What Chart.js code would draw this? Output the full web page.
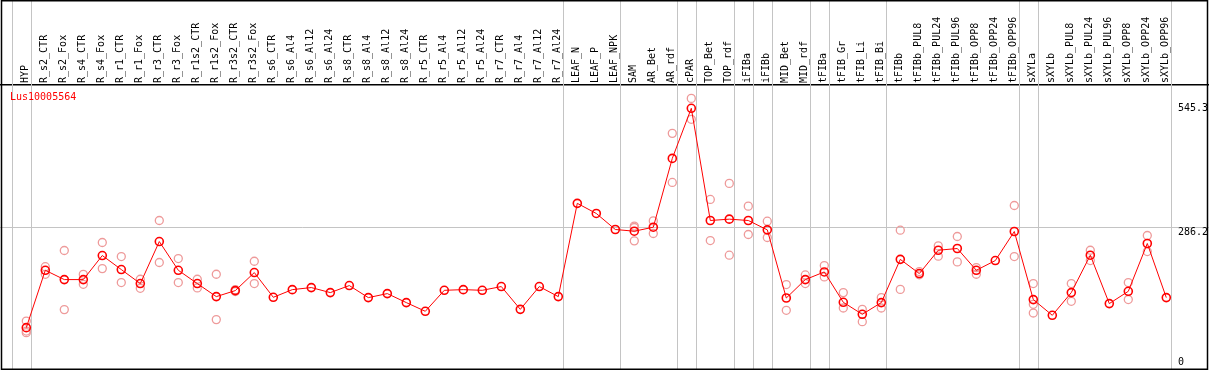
<!DOCTYPE html>
<html>
<head>
<meta charset="utf-8">
<script src="https://cdn.jsdelivr.net/npm/chart.js@4"></script>
<style>
  html, body { margin: 0; padding: 0; background: #fff; }
  #wrap { width: 1209px; height: 370px; position: relative; }
</style>
</head>
<body>
<div id="wrap"><canvas id="mainChart"></canvas></div>
<script>
// gene id shown in the corner
const geneName = "Lus10005564";

const categories = [
    "HYP", "R_s2_CTR", "R_s2_Fox", "R_s4_CTR", "R_s4_Fox", "R_r1_CTR", "R_r1_Fox",
    "R_r3_CTR", "R_r3_Fox", "R_r1s2_CTR", "R_r1s2_Fox", "R_r3s2_CTR", "R_r3s2_Fox",
    "R_s6_CTR", "R_s6_Al4", "R_s6_Al12", "R_s6_Al24", "R_s8_CTR", "R_s8_Al4", "R_s8_Al12",
    "R_s8_Al24", "R_r5_CTR", "R_r5_Al4", "R_r5_Al12", "R_r5_Al24", "R_r7_CTR", "R_r7_Al4",
    "R_r7_Al12", "R_r7_Al24", "LEAF_N", "LEAF_P", "LEAF_NPK", "SAM", "AR_Bet", "AR_rdf",
    "cPAR", "TOP_Bet", "TOP_rdf", "iFIBa", "iFIBb", "MID_Bet", "MID_rdf", "tFIBa",
    "tFIB_Gr", "tFIB_Li", "tFIB_Bi", "tFIBb", "tFIBb_PUL8", "tFIBb_PUL24", "tFIBb_PUL96",
    "tFIBb_OPP8", "tFIBb_OPP24", "tFIBb_OPP96", "sXYLa", "sXYLb", "sXYLb_PUL8",
    "sXYLb_PUL24", "sXYLb_PUL96", "sXYLb_OPP8", "sXYLb_OPP24", "sXYLb_OPP96"
];

const means = [
    86.5, 206.5, 187, 187, 237.3, 208, 178.7, 266.6, 206.5, 178.7, 151.4, 164, 201.7,
    150, 166, 170.3, 159.8, 174.5, 149.3, 157.7, 138.9, 120.7, 164.6, 166, 164.6,
    172.4, 124.8, 172.4, 151.4, 346.5, 325.3, 291.8, 288.2, 296.6, 440.5, 545.3,
    310.6, 313.4, 310.6, 291, 148.5, 187, 203, 139.5, 114.4, 138.9, 229.3, 199.6,
    248.4, 252, 206.5, 226.8, 287.6, 145.2, 112.3, 159.8, 238, 136.8, 162.5, 262.5, 149.3
];

const replicates = [
    [100.3, 79.4, 76], [214, 198], [247.8, 124.2], [198, 177.2], [264.6, 210],
    [235.2, 180.8], [187.7, 168.8], [310.6, 222.7], [231, 180.8], [187.7, 169.5],
    [198.2, 103.3], [166, 162], [225.4, 178.7],
    [], [], [], [], [], [], [], [], [], [], [], [], [], [], [], [], [], [], [],
    [299, 296, 268], [309.8, 283.4], [492.9, 390.2], [566, 522.2], [354.6, 268.7],
    [388.2, 238], [340.6, 281.3], [309.2, 275], [176.6, 122.7], [196.7, 178.7],
    [216.4, 192.5], [159.8, 127.6], [124.8, 99], [149.3, 127.6], [290.3, 166.5],
    [203.8, 197], [257.5, 235.9], [277.1, 224], [212.2, 198.2], [], [342, 235.2],
    [178.7, 135.3, 117.1], [], [178.7, 141.6], [248.4, 226.8], [], [180.8, 145.2],
    [279.2, 245.7], []
];

// vertical separators sit just after these category indices
const separators = [-1, 0, 28, 31, 34, 35, 37, 38, 39, 41, 42, 45, 52, 53, 60];
const rightTicks = [545.3, 286.2, 0];
const midline = 297;
const yMax = 594;

const font = "10px 'DejaVu Sans Mono', 'Liberation Mono', monospace";

let meanPoints = means.map((v, i) => ({ x: i, y: v }));
let repPoints = [];
replicates.forEach((list, i) => list.forEach(v => repPoints.push({ x: i, y: v })));

const decorPlugin = {
    id: "decor",
    beforeDatasetsDraw(chart) {
        const ctx = chart.ctx;
        const xs = chart.scales.x;
        ctx.save();
        ctx.strokeStyle = "#c4c4c4";
        ctx.lineWidth = 1;
        separators.forEach(b => {
            let px = Math.round(xs.getPixelForValue(b + 0.23)) + 0.5;
            ctx.beginPath();
            ctx.moveTo(px, 0);
            ctx.lineTo(px, chart.height);
            ctx.stroke();
        });
        ctx.restore();
    },
    afterDraw(chart) {
        const ctx = chart.ctx;
        const area = chart.chartArea;
        const ys = chart.scales.y;
        ctx.save();
        ctx.font = font;

        // gene name
        ctx.fillStyle = "#ff0000";
        ctx.textAlign = "left";
        ctx.textBaseline = "middle";
        ctx.fillText(geneName, 10, area.top + 12);

        // right-hand value labels
        ctx.fillStyle = "#000";
        rightTicks.forEach(v => {
            let py = ys.getPixelForValue(v);
            py = Math.min(py, area.bottom - 7);
            ctx.fillText(String(v), 1178, py);
        });

        // outer frame
        ctx.strokeStyle = "#000";
        ctx.lineWidth = 1.5;
        ctx.strokeRect(1.5, 0.75, 1206, 368.5);
        ctx.restore();
    }
};

let ctx = document.getElementById("mainChart").getContext("2d");
let mainChart = new Chart(ctx, {
    type: "line",
    data: {
        datasets: [{
            label: "mean",
            data: meanPoints,
            borderColor: "#ff0000",
            borderWidth: 1,
            pointRadius: 4,
            pointBorderWidth: 1.6,
            pointBorderColor: "#ff0000",
            pointBackgroundColor: "rgba(0,0,0,0)",
            tension: 0,
            order: 0
        }, {
            label: "replicates",
            type: "scatter",
            data: repPoints,
            showLine: false,
            pointRadius: 4,
            pointBorderWidth: 1.3,
            pointBorderColor: "#ee9a9a",
            pointBackgroundColor: "rgba(0,0,0,0)",
            order: 1
        }]
    },
    options: {
        responsive: true,
        maintainAspectRatio: false,
        animation: false,
        devicePixelRatio: 1,
        layout: { autoPadding: false, padding: { left: 0, right: 0, top: 0, bottom: 1 } },
        plugins: { legend: { display: false }, tooltip: { enabled: false } },
        scales: {
            x: {
                type: "linear",
                position: "top",
                min: -26.3 / 19,
                max: (1209 - 26.3) / 19,
                afterBuildTicks: s => { s.ticks = categories.map((c, i) => ({ value: i })); },
                afterFit: s => {
                    s.height = 85;
                    s.paddingLeft = 0;
                    s.paddingRight = 0;
                },
                grid: { display: false, drawTicks: false },
                border: { display: true, color: "#000", width: 1.5 },
                ticks: {
                    autoSkip: false,
                    minRotation: 90,
                    maxRotation: 90,
                    padding: 2,
                    labelOffset: 10.7,
                    color: "#000",
                    font: { family: "'DejaVu Sans Mono', monospace", size: 10 },
                    callback: v => categories[v]
                }
            },
            y: {
                type: "linear",
                position: "right",
                min: 0,
                max: yMax,
                afterBuildTicks: s => { s.ticks = [{ value: midline }]; },
                afterFit: s => { s.width = 0; },
                grid: { color: "#c4c4c4", lineWidth: 1, drawTicks: false },
                border: { display: false },
                ticks: { display: false }
            }
        }
    },
    plugins: [decorPlugin]
});
</script>
</body>
</html>
